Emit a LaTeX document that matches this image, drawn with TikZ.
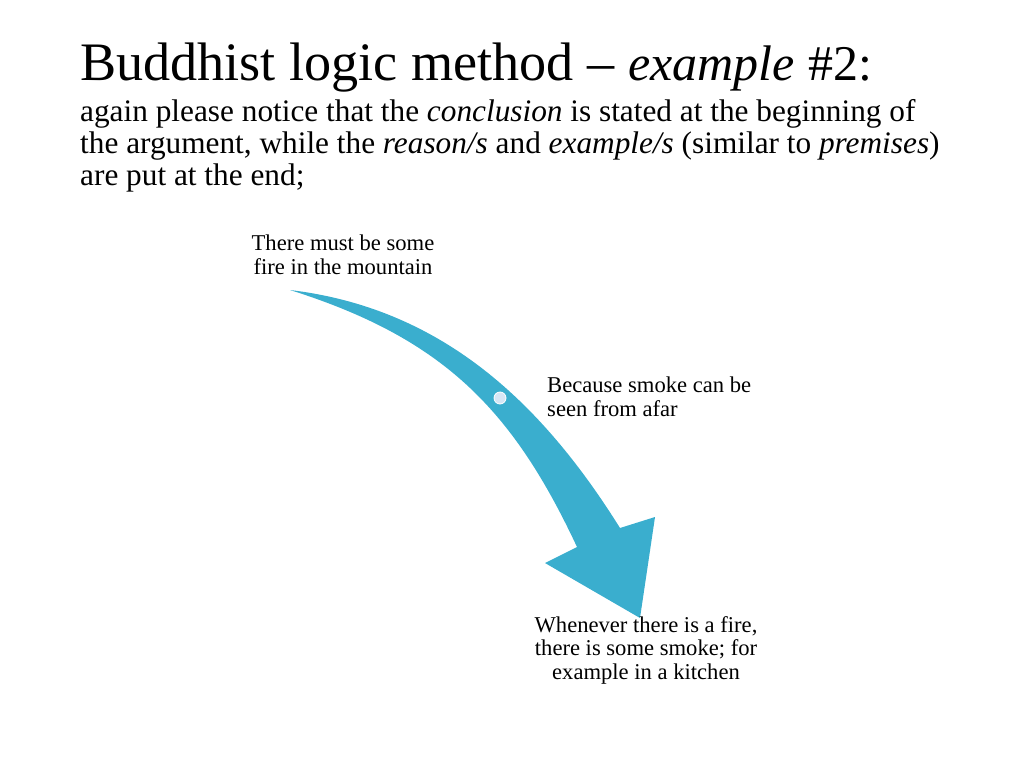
\documentclass[tikz,border=0pt]{standalone}
\usepackage{fontspec}
\setmainfont{Liberation Serif}
\definecolor{arrowblue}{RGB}{58,174,206}
\definecolor{dotfill}{RGB}{214,230,245}
\begin{document}
\begin{tikzpicture}[x=1pt,y=-1pt,
  titletext/.style={anchor=base west,inner sep=0pt,font=\fontsize{54.2}{60}\selectfont},
  bodytext/.style={anchor=base west,inner sep=0pt,font=\fontsize{31.3}{32}\selectfont},
  labeltext/.style={inner sep=0pt,font=\fontsize{22.6}{23.5}\selectfont}]
\useasboundingbox (0,0) rectangle (1024,768);
% curved arrow
\fill[arrowblue] (290,290) .. controls (440,308) and (540,400) .. (620,528)
  -- (655,517) -- (640,618) -- (545,563) -- (577,547)
  .. controls (512,408) and (442,338) .. (290,290) -- cycle;
\fill[dotfill] (500,398) circle[radius=6];
\draw[white,line width=0.8pt] (500,398) circle[radius=6];
% title and text
\node[titletext] (title) at (80,80) {Buddhist logic method -- {\fontsize{50}{56}\selectfont\itshape example} {\fontsize{50}{56}\selectfont\#2:}};
\node[bodytext] (l1) at (80,121) {again please notice that the \textit{conclusion} is stated at the beginning of};
\node[bodytext] (l2) at (80,153) {the argument, while the \textit{reason/s} and \textit{example/s} (similar to \textit{premises})};
\node[bodytext] (l3) at (80,185) {are put at the end;};
% labels
\node[labeltext,anchor=base,align=center] (conc) at (343,274) {There must be some\\fire in the mountain};
\node[labeltext,anchor=base west,align=left] (reason) at (547,416) {Because smoke can be\\seen from afar};
\node[labeltext,anchor=base,align=center] (example) at (646,679) {Whenever there is a fire,\\there is some smoke; for\\example in a kitchen};
\end{tikzpicture}
\end{document}
